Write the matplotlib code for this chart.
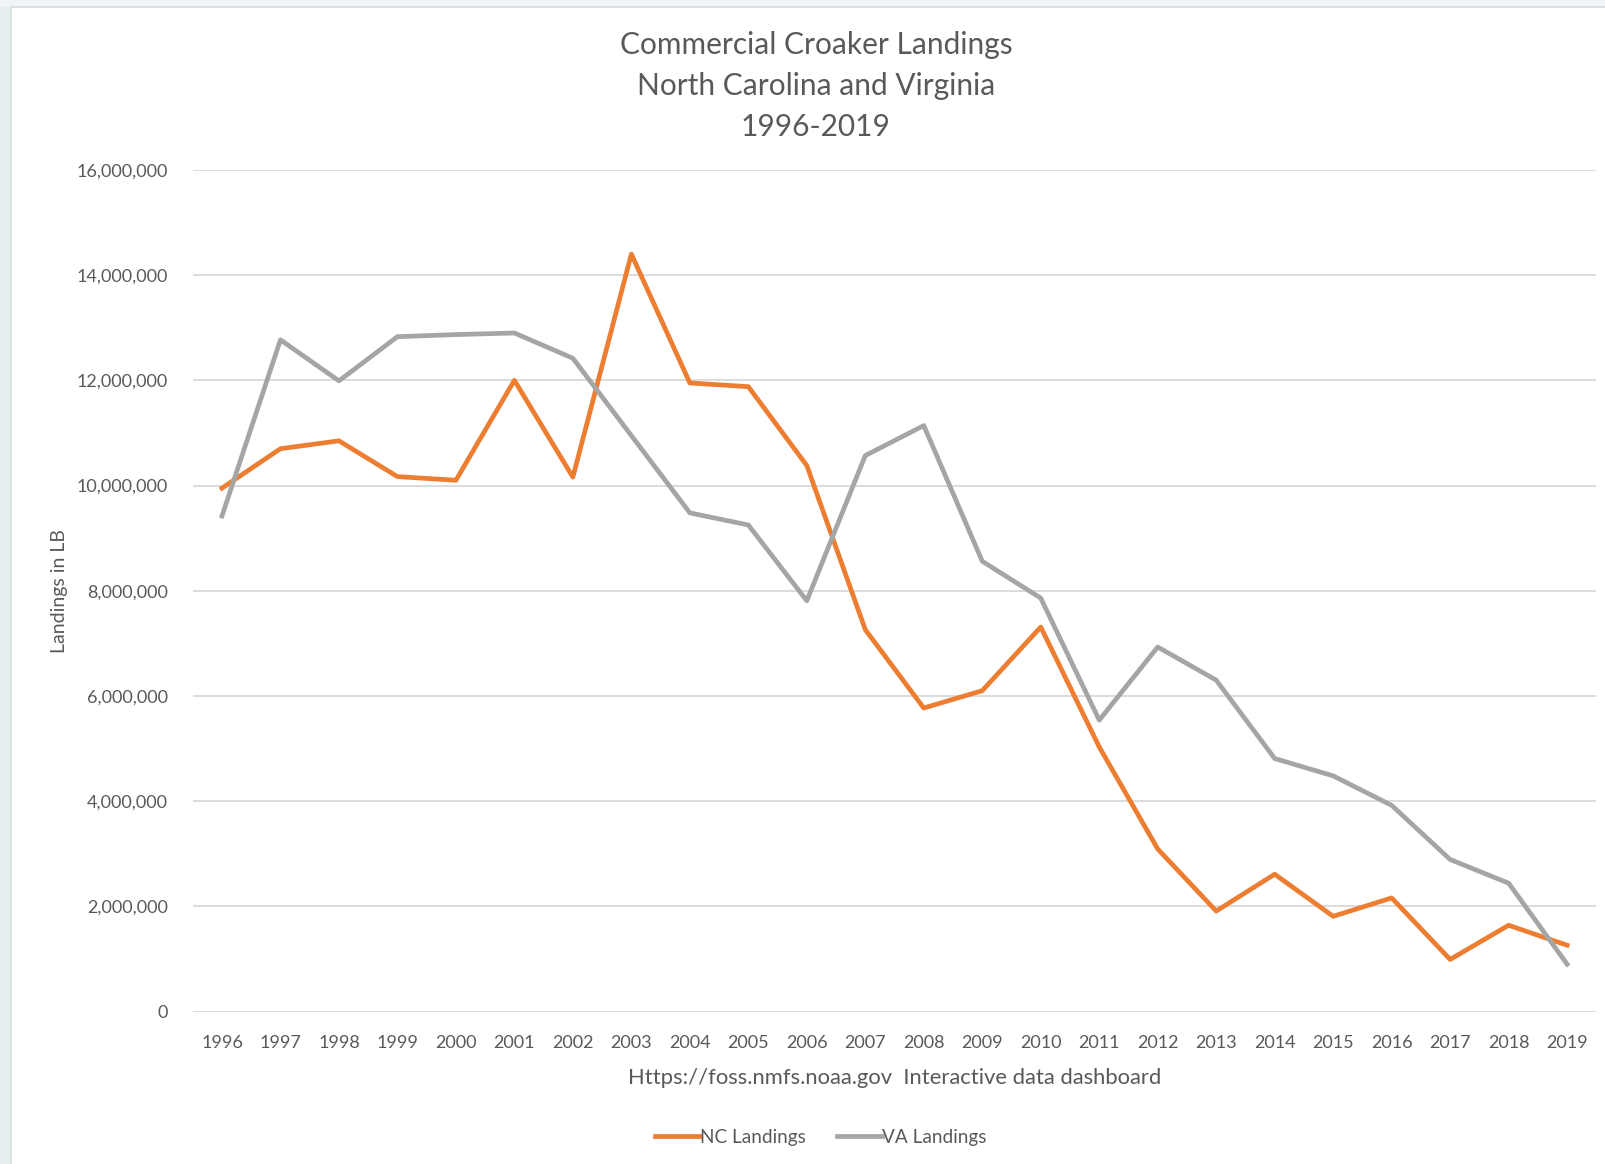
#!/usr/bin/env python3

import matplotlib
matplotlib.use("Agg")
import matplotlib.pyplot as plt
from matplotlib.ticker import FuncFormatter
from matplotlib.patches import Rectangle

# Commercial croaker landings (lb)
years = [str(y) for y in range(1996, 2020)]
nc_landings = [9950000, 10700000, 10850000, 10170000, 10100000, 12000000,
               10160000, 14400000, 11950000, 11880000, 10380000, 7260000,
               5770000, 6100000, 7310000, 5030000, 3090000, 1910000,
               2610000, 1810000, 2160000, 990000, 1640000, 1260000]
va_landings = [9420000, 12770000, 11990000, 12830000, 12870000, 12900000,
               12420000, 10950000, 9480000, 9250000, 7810000, 10570000,
               11140000, 8560000, 7860000, 5540000, 6930000, 6300000,
               4810000, 4480000, 3920000, 2890000, 2440000, 900000]
y_ticks = [0, 2000000, 4000000, 6000000, 8000000, 10000000, 12000000, 14000000, 16000000]

title = "Commercial Croaker Landings\nNorth Carolina and Virginia\n1996-2019"
x_title = "Https://foss.nmfs.noaa.gov  Interactive data dashboard"
y_title = "Landings in LB"

text_col = "#595959"
plt.rcParams["font.family"] = ["Lato", "DejaVu Sans"]

fig = plt.figure(figsize=(16.06, 11.64), dpi=100)
fig.patch.set_facecolor("white")

# pale backdrop strips + chart border, like the screenshot
fig.patches.append(Rectangle((0, 0), 0.007, 1, transform=fig.transFigure,
                             facecolor="#e6eef2", edgecolor="none", zorder=0))
fig.patches.append(Rectangle((0, 0.994), 1, 0.006, transform=fig.transFigure,
                             facecolor="#eef4f7", edgecolor="none", zorder=0))
fig.patches.append(Rectangle((0.007, -0.01), 1.0, 1.004, transform=fig.transFigure,
                             facecolor="none", edgecolor="#d9d9d9", lw=1.2, zorder=1))

ax = fig.add_axes([0.120, 0.131, 0.874, 0.723])
x = range(len(years))
ax.plot(x, nc_landings, color="#ED7D31", lw=3.4, label="NC Landings",
        solid_joinstyle="round", zorder=3)
ax.plot(x, va_landings, color="#A5A5A5", lw=3.4, label="VA Landings",
        solid_joinstyle="round", zorder=3)

ax.set_xlim(-0.5, len(years) - 0.5)
ax.set_ylim(0, 16000000)
ax.set_yticks(y_ticks)
ax.yaxis.set_major_formatter(FuncFormatter(lambda v, p: f"{int(v):,}"))
ax.set_xticks(list(x))
ax.set_xticklabels(years)
ax.grid(axis="y", color="#d9d9d9", lw=1.3)
ax.set_axisbelow(True)
for s in ax.spines.values():
    s.set_visible(False)
ax.tick_params(length=0, labelsize=13, colors=text_col)
ax.tick_params(axis="y", pad=18)
ax.tick_params(axis="x", pad=17)

ax.set_xlabel(x_title, fontsize=15.8, color=text_col, labelpad=12)
ax.set_ylabel(y_title, fontsize=14, color=text_col, labelpad=6)

fig.text(0.508, 0.926, title, ha="center", va="center", fontsize=21.5,
         color=text_col, linespacing=1.55)

fig.legend(loc="center", bbox_to_anchor=(0.511, 0.023), ncol=2, frameon=False,
           fontsize=13.7, labelcolor=text_col, handlelength=2.4,
           handletextpad=0.0, columnspacing=1.6)

fig.savefig("out.png", dpi=100, facecolor="white")
